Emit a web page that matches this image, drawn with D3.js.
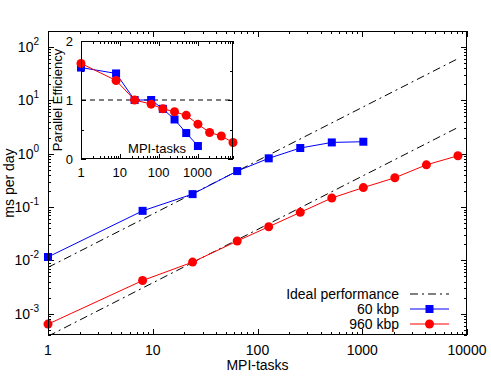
<!DOCTYPE html>
<html>
<head>
<meta charset="utf-8">
<script src="https://cdn.jsdelivr.net/npm/d3@7"></script>
<style>
  body { margin: 0; background: #fff; }
  text { font-family: "Liberation Sans", Arial, sans-serif; fill: #000; }
</style>
</head>
<body>
<svg id="chart" width="491" height="379"></svg>
<script>
// --- data ---
const tasks60 = [1, 8, 24, 64, 128, 256, 512, 1024];
const ms60 = [0.0116, 0.085, 0.175, 0.473, 0.82, 1.28, 1.63, 1.68];
const tasks960 = [1, 8, 24, 64, 128, 256, 512, 1024, 2048, 4096, 8192];
const ms960 = [6.4e-4, 4.2e-3, 9.3e-3, 0.0231, 0.0428, 0.0796, 0.148, 0.232, 0.355, 0.62, 0.916];
const idealTasks = [1, 8192];
const ideal60 = [0.0074, 60.6];
const ideal960 = [3.8e-4, 3.11];
const eff60 = [1.55, 1.45, 1.0, 1.0, 0.85, 0.67, 0.44, 0.22];
const eff960 = [1.62, 1.33, 1.0, 0.93, 0.85, 0.8, 0.74, 0.59, 0.45, 0.39, 0.28];
const xTickValues = [1, 10, 100, 1000, 10000];
const yTickExps = [-3, -2, -1, 0, 1, 2];
const insetXTicks = [1, 10, 100, 1000];
const insetYTicks = [0, 1, 2];
const legendLabels = ['Ideal performance', '60 kbp', '960 kbp'];

const BLUE = '#0000ff', RED = '#ff0000';
const svg = d3.select('#chart');

// main plot area
const M = { left: 48, right: 467, top: 31, bottom: 335 };
const x = d3.scaleLog().domain([1, 10000]).range([M.left, M.right]);
const y = d3.scaleLog().domain([4e-4, 200]).range([M.bottom, M.top]);

svg.append('defs').append('clipPath').attr('id', 'clipMain')
  .append('rect').attr('x', M.left).attr('y', M.top)
  .attr('width', M.right - M.left).attr('height', M.bottom - M.top);

// minor/major ticks (log) on all four sides
function logTicks(scale, lo, hi) {
  const out = [];
  for (let e = Math.floor(Math.log10(lo)); e <= Math.ceil(Math.log10(hi)); e++) {
    for (let k = 1; k <= 9; k++) {
      const v = k * Math.pow(10, e);
      if (v >= lo * 0.9999 && v <= hi * 1.0001) out.push({ v, major: k === 1 });
    }
  }
  return out;
}

const ticksG = svg.append('g').attr('stroke', '#000').attr('stroke-width', 1);
logTicks(x, 1, 10000).forEach(t => {
  const px = Math.round(x(t.v)) + 0.5, len = t.major ? 6 : 3;
  ticksG.append('line').attr('x1', px).attr('x2', px).attr('y1', M.bottom).attr('y2', M.bottom - len);
  ticksG.append('line').attr('x1', px).attr('x2', px).attr('y1', M.top).attr('y2', M.top + len);
});
logTicks(y, 4e-4, 200).forEach(t => {
  const py = Math.round(y(t.v)) + 0.5, len = t.major ? 6 : 3;
  ticksG.append('line').attr('x1', M.left).attr('x2', M.left + len).attr('y1', py).attr('y2', py);
  ticksG.append('line').attr('x1', M.right).attr('x2', M.right - len).attr('y1', py).attr('y2', py);
});

// tick labels
svg.append('g').selectAll('text').data(xTickValues).enter().append('text')
  .attr('x', d => x(d)).attr('y', 355).attr('text-anchor', 'middle')
  .attr('font-size', 14).text(d => d);

const yl = svg.append('g').selectAll('text').data(yTickExps).enter().append('text')
  .attr('x', 39).attr('y', d => y(Math.pow(10, d)) + 5).attr('text-anchor', 'end')
  .attr('font-size', 14);
yl.append('tspan').text('10');
yl.append('tspan').attr('dy', -7).attr('font-size', 10).text(d => d);

// axis titles
svg.append('text').attr('x', (M.left + M.right) / 2).attr('y', 370)
  .attr('text-anchor', 'middle').attr('font-size', 14).text('MPI-tasks');
svg.append('text').attr('transform', `translate(14, ${(M.top + M.bottom) / 2}) rotate(-90)`)
  .attr('text-anchor', 'middle').attr('font-size', 14).text('ms per day');

// data
const plot = svg.append('g').attr('clip-path', 'url(#clipMain)');
const lineMain = d3.line().x(d => x(d[0])).y(d => y(d[1]));

[ideal60, ideal960].forEach(vals => {
  plot.append('path').datum(d3.zip(idealTasks, vals))
    .attr('fill', 'none').attr('stroke', '#000').attr('stroke-width', 1)
    .attr('stroke-dasharray', '8,4,2,4').attr('d', lineMain);
});

function drawSeries(g, pts, line, color, shape) {
  g.append('path').datum(pts).attr('fill', 'none').attr('stroke', color)
    .attr('stroke-width', 1).attr('d', line);
  if (shape === 'square') {
    g.selectAll(null).data(pts).enter().append('rect')
      .attr('x', d => line.x()(d) - 4).attr('y', d => line.y()(d) - 4)
      .attr('width', 8).attr('height', 8).attr('fill', color);
  } else {
    g.selectAll(null).data(pts).enter().append('circle')
      .attr('cx', d => line.x()(d)).attr('cy', d => line.y()(d))
      .attr('r', 4.5).attr('fill', color);
  }
}

const dataG = svg.append('g');
drawSeries(dataG, d3.zip(tasks60, ms60), lineMain, BLUE, 'square');
drawSeries(dataG, d3.zip(tasks960, ms960), lineMain, RED, 'circle');

// frame
svg.append('rect').attr('x', M.left + 0.5).attr('y', M.top + 0.5)
  .attr('width', M.right - M.left - 1).attr('height', M.bottom - M.top - 1)
  .attr('fill', 'none').attr('stroke', '#000');

// legend
const legY = [294, 309, 324];
const lg = svg.append('g');
legendLabels.forEach((lab, i) => {
  lg.append('text').attr('x', 399).attr('y', legY[i] + 5).attr('text-anchor', 'end')
    .attr('font-size', 14).text(lab);
});
lg.append('line').attr('x1', 410).attr('x2', 449).attr('y1', legY[0]).attr('y2', legY[0])
  .attr('stroke', '#000').attr('stroke-dasharray', '8,4,2,4');
lg.append('line').attr('x1', 410).attr('x2', 449).attr('y1', legY[1]).attr('y2', legY[1]).attr('stroke', BLUE);
lg.append('rect').attr('x', 425.5).attr('y', legY[1] - 4).attr('width', 8).attr('height', 8).attr('fill', BLUE);
lg.append('line').attr('x1', 410).attr('x2', 449).attr('y1', legY[2]).attr('y2', legY[2]).attr('stroke', RED);
lg.append('circle').attr('cx', 429.5).attr('cy', legY[2]).attr('r', 4.5).attr('fill', RED);

// --- inset: parallel efficiency ---
const I = { left: 81, right: 233, top: 41, bottom: 159 };
const xi = d3.scaleLog().domain([1, 8192]).range([I.left, I.right]);
const yi = d3.scaleLinear().domain([0, 2]).range([I.bottom, I.top]);

const inset = svg.append('g');
inset.append('rect').attr('x', I.left).attr('y', I.top)
  .attr('width', I.right - I.left).attr('height', I.bottom - I.top).attr('fill', '#fff');

const iticks = inset.append('g').attr('stroke', '#000');
logTicks(xi, 1, 8192).forEach(t => {
  const px = Math.round(xi(t.v)) + 0.5, len = t.major ? 5 : 3;
  iticks.append('line').attr('x1', px).attr('x2', px).attr('y1', I.bottom).attr('y2', I.bottom - len);
  iticks.append('line').attr('x1', px).attr('x2', px).attr('y1', I.top).attr('y2', I.top + len);
});
[0, 0.5, 1, 1.5, 2].forEach(v => {
  const py = Math.round(yi(v)) + 0.5, len = Number.isInteger(v) ? 5 : 3;
  iticks.append('line').attr('x1', I.left).attr('x2', I.left + len).attr('y1', py).attr('y2', py);
  iticks.append('line').attr('x1', I.right).attr('x2', I.right - len).attr('y1', py).attr('y2', py);
});

inset.append('g').selectAll('text').data(insetXTicks).enter().append('text')
  .attr('x', d => xi(d)).attr('y', 177).attr('text-anchor', 'middle')
  .attr('font-size', 13).text(d => d);
inset.append('g').selectAll('text').data(insetYTicks).enter().append('text')
  .attr('x', 73).attr('y', d => yi(d) + 5).attr('text-anchor', 'end')
  .attr('font-size', 13).text(d => d);

inset.append('text').attr('transform', `translate(62, ${(I.top + I.bottom) / 2}) rotate(-90)`)
  .attr('text-anchor', 'middle').attr('font-size', 13).text('Parallel Efficiency');
inset.append('text').attr('x', (I.left + I.right) / 2).attr('y', 153)
  .attr('text-anchor', 'middle').attr('font-size', 13).text('MPI-tasks');

// reference line at efficiency 1
inset.append('line').attr('x1', I.left).attr('x2', I.right)
  .attr('y1', yi(1)).attr('y2', yi(1))
  .attr('stroke', '#000').attr('stroke-dasharray', '5,4');

const lineInset = d3.line().x(d => xi(d[0])).y(d => yi(d[1]));
drawSeries(inset, d3.zip(tasks60, eff60), lineInset, BLUE, 'square');
drawSeries(inset, d3.zip(tasks960, eff960), lineInset, RED, 'circle');

inset.append('rect').attr('x', I.left + 0.5).attr('y', I.top + 0.5)
  .attr('width', I.right - I.left - 1).attr('height', I.bottom - I.top - 1)
  .attr('fill', 'none').attr('stroke', '#000');
</script>
</body>
</html>
